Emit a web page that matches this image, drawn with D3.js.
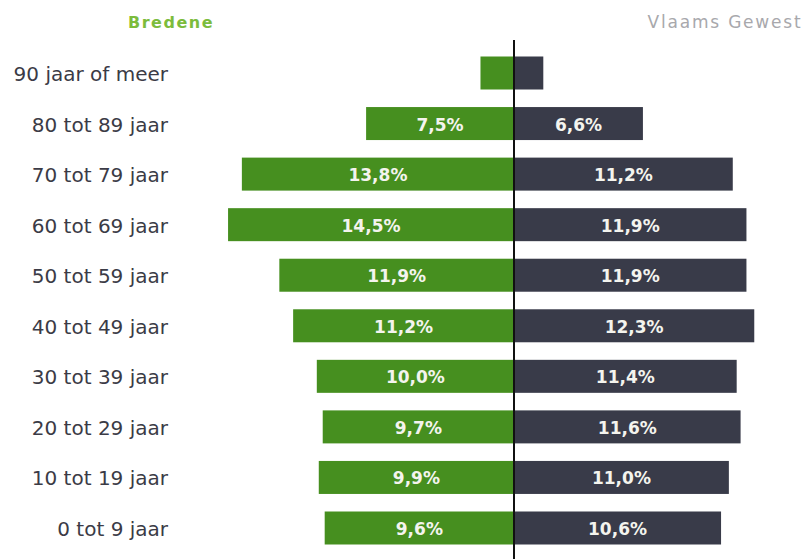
<!DOCTYPE html>
<html>
<head>
<meta charset="utf-8">
<script src="https://cdn.jsdelivr.net/npm/d3@7"></script>
<style>
  html, body { margin: 0; padding: 0; background: #ffffff; }
  svg { display: block; }
</style>
</head>
<body>
<svg id="chart" width="804" height="559"></svg>
<script>
const categories = ["90 jaar of meer", "80 tot 89 jaar", "70 tot 79 jaar", "60 tot 69 jaar", "50 tot 59 jaar",
                    "40 tot 49 jaar", "30 tot 39 jaar", "20 tot 29 jaar", "10 tot 19 jaar", "0 tot 9 jaar"];
const bredene = [1.7, 7.5, 13.8, 14.5, 11.9, 11.2, 10.0, 9.7, 9.9, 9.6];
const vlaams  = [1.5, 6.6, 11.2, 11.9, 11.9, 12.3, 11.4, 11.6, 11.0, 10.6];
const seriesNames = ["Bredene", "Vlaams Gewest"];

const svg = d3.select("#chart");
const cx = 514;
const barH = 33;

const xL = d3.scaleLinear().domain([0, 15]).range([0, 295.8]);
const xR = d3.scaleLinear().domain([0, 15]).range([0, 293]);
const y = d3.scalePoint().domain(categories).range([73, 528]);

const fmt = v => d3.format(".1f")(v).replace(".", ",") + "%";

// Headers
svg.append("text").attr("x", 171).attr("y", 28).attr("text-anchor", "middle")
  .attr("font-family", "DejaVu Sans, sans-serif").attr("font-size", 16).attr("font-weight", "bold")
  .attr("letter-spacing", 1.5).attr("fill", "#7cbc3c").text(seriesNames[0]);
svg.append("text").attr("x", 725).attr("y", 28).attr("text-anchor", "middle")
  .attr("font-family", "DejaVu Sans, sans-serif").attr("font-size", 17)
  .attr("letter-spacing", 1.8).attr("fill", "#a8a8ac").text(seriesNames[1]);

// Bars
const rows = categories.map((c, i) => ({ c, b: bredene[i], v: vlaams[i] }));

svg.selectAll("rect.b").data(rows).join("rect").attr("class", "b")
  .attr("x", d => cx - xL(d.b)).attr("y", d => y(d.c) - barH / 2)
  .attr("width", d => xL(d.b)).attr("height", barH).attr("fill", "#468f1f");

svg.selectAll("rect.v").data(rows).join("rect").attr("class", "v")
  .attr("x", cx).attr("y", d => y(d.c) - barH / 2)
  .attr("width", d => xR(d.v)).attr("height", barH).attr("fill", "#393b49");

// Value labels
const lblStyle = sel => sel.attr("font-family", "DejaVu Sans, sans-serif").attr("font-size", 17)
  .attr("font-weight", "bold").attr("fill", "#f4f4ee").attr("text-anchor", "middle")
  .attr("dominant-baseline", "central");

svg.selectAll("text.lb").data(rows.filter(d => d.b >= 3)).join("text").attr("class", "lb")
  .attr("x", d => cx - xL(d.b) / 2).attr("y", d => y(d.c) + 1).text(d => fmt(d.b)).call(lblStyle);
svg.selectAll("text.lv").data(rows.filter(d => d.v >= 3)).join("text").attr("class", "lv")
  .attr("x", d => cx + xR(d.v) / 2).attr("y", d => y(d.c) + 1).text(d => fmt(d.v)).call(lblStyle);

// Category labels
svg.selectAll("text.cat").data(categories).join("text").attr("class", "cat")
  .attr("x", 168).attr("y", d => y(d) + 1)
  .attr("text-anchor", "end").attr("dominant-baseline", "central")
  .attr("font-family", "DejaVu Sans, sans-serif").attr("font-size", 20).attr("fill", "#3b3b46")
  .text(d => d);

// Center line
svg.append("line").attr("x1", cx).attr("x2", cx).attr("y1", 40).attr("y2", 559)
  .attr("stroke", "#111").attr("stroke-width", 2);
</script>
</body>
</html>
